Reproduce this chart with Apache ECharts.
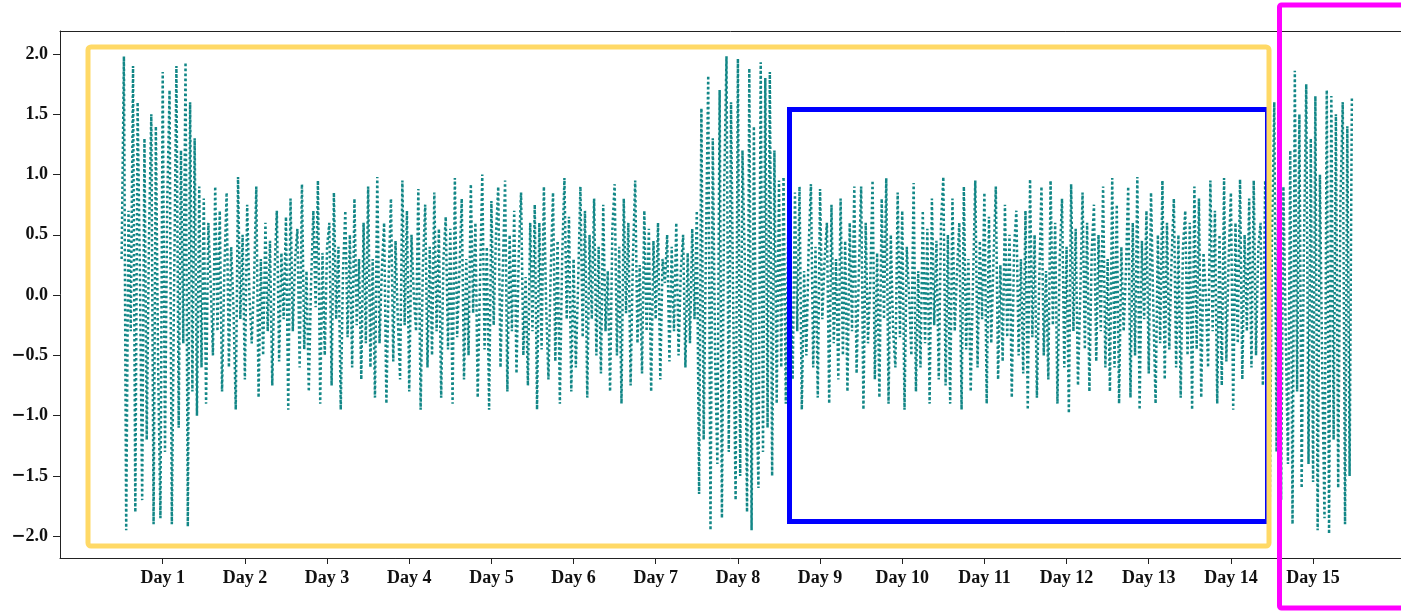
<!DOCTYPE html>
<html>
<head>
<meta charset="utf-8">
<script src="https://cdn.jsdelivr.net/npm/echarts@6/dist/echarts.min.js"></script>
<style>
html, body { margin: 0; padding: 0; background: #fff; }
#chart { width: 1401px; height: 613px; }
</style>
</head>
<body>
<div id="chart"></div>
<script>
// tick labels
var dayTicks = [1, 2, 3, 4, 5, 6, 7, 8, 9, 10, 11, 12, 13, 14, 15];
var yTicks = [-2.0, -1.5, -1.0, -0.5, 0.0, 0.5, 1.0, 1.5, 2.0];

// readings per day, 36 samples each
var day01 = [0.3, 1.98, -1.95, 0.7, -0.3, 1.9, -1.8, 1.6, 0.2, -1.7, 1.3, -1.2, 0.5, 1.5, -1.9, 1.4, -0.6, -1.85, 1.85, -1.3, 0.8, 1.7, -1.9, 0.1, 1.9, -1.1, 1.2, -0.4, 1.93, -1.92, 1.6, -0.8, 1.3, -1.0, 0.9, -0.6];
var day02 = [0.8, -0.9, 0.6, 0.1, -0.5, 0.9, -0.3, 0.7, -0.8, 0.2, 0.85, -0.6, 0.4, -0.1, -0.95, 0.98, -0.2, 0.5, -0.7, 0.75, 0.0, -0.4, 0.1, 0.9, -0.85, 0.3, -0.5, 0.6, -0.3, 0.45, -0.75, 0.2, 0.7, -0.55, 0.35, -0.2];
var day03 = [0.65, -0.95, 0.8, -0.3, 0.3, 0.55, -0.6, 0.92, -0.45, 0.2, -0.8, 0.1, 0.7, -0.1, 0.95, -0.9, 0.35, -0.5, 0.4, 0.6, -0.75, 0.85, -0.2, 0.4, -0.95, 0.2, 0.7, -0.35, 0.5, -0.6, 0.8, -0.25, 0.3, -0.7, 0.6, -0.4];
var day04 = [0.9, -0.6, 0.3, -0.85, 0.98, -0.4, 0.2, 0.6, -0.9, 0.15, 0.8, -0.55, 0.45, -0.2, -0.7, 0.95, -0.25, 0.7, -0.8, 0.5, 0.0, -0.3, 0.88, -0.95, 0.25, 0.75, -0.6, 0.4, -0.5, 0.85, -0.3, 0.55, -0.85, 0.3, 0.65, -0.45];
var day05 = [0.55, -0.9, 0.97, -0.35, 0.2, 0.8, -0.7, 0.3, -0.5, 0.92, -0.15, 0.6, -0.85, 0.1, 1.0, -0.45, 0.4, -0.95, 0.78, -0.25, 0.5, 0.9, -0.6, 0.2, 0.95, -0.8, 0.5, -0.3, 0.7, -0.65, 0.35, 0.85, -0.5, 0.15, -0.75, 0.6];
var day06 = [-0.3, 0.75, -0.95, 0.6, -0.45, 0.9, -0.1, -0.7, 0.2, 0.85, -0.55, 0.45, -0.9, 0.3, 0.97, -0.2, 0.65, -0.8, 0.3, -0.6, 0.1, 0.9, -0.35, 0.7, -0.85, 0.5, -0.2, 0.8, -0.5, 0.4, -0.65, 0.75, -0.3, 0.2, -0.8, 0.55];
var day07 = [0.92, -0.5, 0.4, -0.9, 0.8, -0.15, 0.6, -0.75, 0.3, 0.95, -0.4, 0.25, -0.65, 0.7, -0.3, 0.55, -0.8, 0.45, -0.2, 0.6, -0.7, 0.3, 0.1, 0.5, -0.55, 0.4, -0.3, 0.6, -0.5, 0.2, 0.5, -0.6, 0.35, -0.4, 0.55, -0.2];
var day08 = [0.7, -1.65, 1.55, -1.2, 0.4, 1.82, -1.95, 1.3, -0.5, -1.4, 1.7, -1.85, 0.9, 1.98, -1.3, 1.6, -0.2, -1.7, 1.96, -1.5, 1.2, 0.3, -1.8, 1.88, -1.95, 1.4, -0.7, -1.6, 1.93, -1.3, 1.8, -1.1, 1.85, -1.5, 1.2, -0.9];
var day09 = [0.95, -0.6, 0.98, -0.9, 0.5, 0.1, -0.7, 0.85, -0.3, 0.9, -0.95, 0.2, -0.5, 0.4, 0.92, -0.6, 0.4, -0.85, 0.88, -0.2, 0.3, 0.6, -0.9, 0.75, -0.4, 0.3, -0.7, 0.8, -0.5, 0.45, -0.8, 0.6, -0.3, 0.9, -0.65, 0.2];
var day10 = [0.9, -0.95, 0.6, -0.4, 0.1, 0.95, -0.7, 0.35, -0.85, 0.8, -0.2, 0.97, -0.9, 0.5, -0.3, -0.6, 0.85, -0.35, 0.7, -0.95, 0.4, 0.0, -0.5, 0.93, -0.8, 0.2, -0.6, 0.7, -0.4, 0.55, -0.9, 0.8, -0.25, 0.45, -0.7, 0.6];
var day11 = [0.98, -0.75, 0.5, -0.9, 0.8, -0.3, 0.2, 0.6, -0.95, 0.9, -0.45, 0.3, -0.8, 0.1, 0.95, -0.6, 0.45, -0.2, 0.85, -0.9, 0.65, -0.4, 0.3, 0.9, -0.7, 0.25, -0.55, 0.75, -0.35, 0.5, -0.85, 0.4, 0.7, -0.5, 0.3, -0.65];
var day12 = [0.7, -0.95, 0.96, -0.35, 0.5, -0.85, 0.1, 0.9, -0.5, 0.2, -0.7, 0.95, -0.25, 0.6, -0.9, 0.3, 0.8, -0.6, 0.4, -0.98, 0.92, -0.3, 0.55, -0.75, 0.0, 0.85, -0.45, 0.6, -0.8, 0.35, 0.75, -0.55, 0.5, -0.3, 0.9, -0.6];
var day13 = [0.3, -0.8, 0.97, -0.6, 0.75, -0.9, 0.4, -0.3, 0.2, 0.9, -0.85, 0.6, -0.5, 0.98, -0.95, 0.45, -0.2, 0.7, -0.65, 0.85, -0.1, -0.9, 0.5, -0.4, 0.95, -0.7, 0.6, -0.45, 0.3, 0.8, -0.6, 0.5, -0.85, 0.4, 0.7, -0.5];
var day14 = [0.6, -0.95, 0.9, -0.45, 0.8, -0.85, 0.35, 0.0, -0.6, 0.95, -0.3, 0.7, -0.9, 0.5, -0.75, 0.97, -0.55, 0.3, 0.85, -0.95, 0.6, -0.4, 0.96, -0.7, 0.5, -0.3, 0.8, -0.6, 0.95, -0.5, 0.4, 0.6, -0.75, 0.95, 0.2, -1.8];
var day15 = [0.5, 1.6, -1.3, 1.9, -1.7, 0.9, -0.3, -1.4, 1.2, -1.9, 1.86, -0.8, 1.5, -1.6, 0.4, 1.75, -1.4, 1.3, -1.55, 1.65, -1.95, 1.0, -0.6, -1.85, 1.7, -1.98, 1.65, -1.2, 1.5, -1.6, 0.8, 1.6, -1.9, 1.4, -1.5, 1.65];

var allDays = [day01, day02, day03, day04, day05, day06, day07, day08,
               day09, day10, day11, day12, day13, day14, day15];

// each day is centred on its tick
var points = [];
allDays.forEach(function (vals, d) {
    vals.forEach(function (v, i) {
        points.push([d + 0.5 + i / vals.length, v]);
    });
});

var chart = echarts.init(document.getElementById('chart'));
var labelFont = {
    color: '#111',
    fontFamily: 'Liberation Serif',
    fontWeight: 'bold',
    fontSize: 18
};

function fmtY(v) {
    var s = Math.abs(v).toFixed(1);
    return v < 0 ? '{m|\u2212}' + s : s;
}

var option = {
    animation: false,
    backgroundColor: '#fff',
    grid: { left: 60, right: 0, top: 31, bottom: 55 },
    xAxis: [
        {
            type: 'value',
            min: -0.25,
            max: 16.07,
            splitLine: { show: false },
            axisLine: { onZero: false, lineStyle: { color: '#222', width: 1 } },
            axisTick: { show: true, length: 6, lineStyle: { color: '#222' }, customValues: dayTicks },
            axisLabel: Object.assign({
                margin: 11,
                customValues: dayTicks,
                formatter: function (v) { return 'Day ' + v; }
            }, labelFont)
        },
        {
            type: 'value',
            position: 'top',
            min: -0.25,
            max: 16.07,
            splitLine: { show: false },
            axisLine: { show: true, onZero: false, lineStyle: { color: '#222', width: 1 } },
            axisTick: { show: false },
            axisLabel: { show: false }
        }
    ],
    yAxis: {
        type: 'value',
        min: -2.18,
        max: 2.19,
        splitLine: { show: false },
        axisLine: { show: true, onZero: false, lineStyle: { color: '#222', width: 1 } },
        axisTick: { show: true, length: 7, lineStyle: { color: '#222' }, customValues: yTicks },
        axisLabel: Object.assign({
            margin: 12,
            customValues: yTicks,
            formatter: fmtY,
            rich: {
                m: { fontFamily: 'DejaVu Serif', fontWeight: 'bold', fontSize: 17, color: '#111' }
            }
        }, labelFont)
    },
    series: [
        {
            type: 'line',
            data: points,
            showSymbol: false,
            lineStyle: {
                color: '#138787',
                width: 2.5,
                type: [2.5, 2.5]
            }
        }
    ],
    graphic: [
        {
            type: 'rect',
            z: 100,
            shape: { x: 789.5, y: 109.5, width: 478, height: 412 },
            style: { fill: 'none', stroke: '#0000ff', lineWidth: 5 }
        },
        {
            type: 'rect',
            z: 101,
            shape: { x: 88, y: 47, width: 1181, height: 499, r: 3 },
            style: { fill: 'none', stroke: '#ffd966', lineWidth: 5 }
        },
        {
            type: 'rect',
            z: 102,
            shape: { x: 1279.5, y: 5, width: 140, height: 603, r: 2 },
            style: { fill: 'none', stroke: '#ff00ff', lineWidth: 5 }
        }
    ]
};

chart.setOption(option);
</script>
</body>
</html>
